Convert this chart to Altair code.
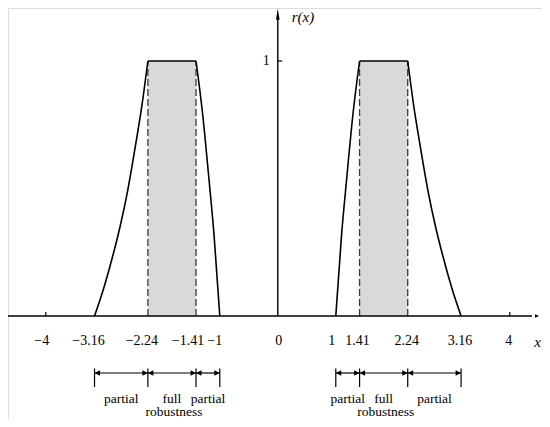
import altair as alt
import pandas as pd

# ---------------- data ----------------
tick_values = [-4, -3.16, -2.24, -1.41, -1, 0, 1, 1.41, 2.24, 3.16, 4]
tick_labels = ["−4", "−3.16", "−2.24", "−1.41", "−1", "0", "1", "1.41", "2.24", "3.16", "4"]

# curve pieces (x, r)
neg_rise_x = [-3.16, -3.0, -2.84, -2.72, -2.59, -2.46, -2.34, -2.24]
neg_rise_r = [0, 0.11, 0.24, 0.35, 0.49, 0.66, 0.83, 1]
neg_fall_x = [-1.41, -1.3, -1.18, -1.1, -1.0]
neg_fall_r = [1, 0.8, 0.52, 0.32, 0]
pos_rise_x = [1.0, 1.1, 1.18, 1.3, 1.41]
pos_rise_r = [0, 0.32, 0.52, 0.8, 1]
pos_fall_x = [2.24, 2.34, 2.46, 2.59, 2.72, 2.84, 3.0, 3.16]
pos_fall_r = [1, 0.83, 0.66, 0.49, 0.35, 0.24, 0.11, 0]

full_lo = [-2.24, 1.41]
full_hi = [-1.41, 2.24]

zone_start = [-3.16, -2.24, -1.41, 1, 1.41, 2.24]
zone_end = [-2.24, -1.41, -1, 1.41, 2.24, 3.16]
zone_label = ["partial", "full", "partial", "partial", "full", "partial"]

y_tick_value = 1
y_tick_label = "1"

# ---------------- geometry ----------------
W, H = 534, 411
PX, PY = 58.0, 255.0
XMIN = -(277.8 - 8) / PX
XMAX = XMIN + W / PX
YMAX = (316 - 8) / PY
YMIN = YMAX - H / PY


def rx(p):
    return XMIN + (p - 8) / PX


def ry(p):
    return YMAX - (p - 8) / PY


xs = alt.Scale(domain=[XMIN, XMAX], nice=False, zero=False)
ys = alt.Scale(domain=[YMIN, YMAX], nice=False, zero=False)
FONT = "Liberation Serif"


def X(f):
    return alt.X(f, type="quantitative", scale=xs, axis=None)


def Y(f):
    return alt.Y(f, type="quantitative", scale=ys, axis=None)


# shaded full-robustness bands
df_band = pd.DataFrame({"x": full_lo, "x2": full_hi, "y": 0.0, "y2": 1.0})
band = alt.Chart(df_band).mark_rect(color="#d9d9d9").encode(
    x=X("x"), x2="x2", y=Y("y"), y2="y2")

# dashed boundaries
df_dash = pd.DataFrame({"x": full_lo + full_hi, "y": 0.0, "y2": 1.0})
dash = alt.Chart(df_dash).mark_rule(color="#3a3a3a", strokeWidth=1.3,
                                    strokeDash=[7, 3]).encode(
    x=X("x"), y=Y("y"), y2="y2")

# curved pieces
pieces = [(neg_rise_x, neg_rise_r), (neg_fall_x, neg_fall_r),
          (pos_rise_x, pos_rise_r), (pos_fall_x, pos_fall_r)]
rows = []
for k, (px_, pr_) in enumerate(pieces):
    for i, (a, b) in enumerate(zip(px_, pr_)):
        rows.append({"x": a, "r": b, "seg": k, "i": i})
df_curve = pd.DataFrame(rows)
curve = alt.Chart(df_curve).mark_line(color="black", strokeWidth=1.6,
                                      interpolate="monotone").encode(
    x=X("x"), y=Y("r"), detail="seg:N", order="i:Q")

# flat tops
df_top = pd.DataFrame({"x": full_lo, "x2": full_hi, "y": 1.0})
top = alt.Chart(df_top).mark_rule(color="black", strokeWidth=1.6).encode(
    x=X("x"), x2="x2", y=Y("y"))

# axes lines
df_xaxis = pd.DataFrame({"x": [XMIN], "x2": [rx(532)], "y": [0.0]})
xaxis = alt.Chart(df_xaxis).mark_rule(color="black", strokeWidth=1.4).encode(
    x=X("x"), x2="x2", y=Y("y"))
df_yaxis = pd.DataFrame({"x": [0.0], "y": [0.0], "y2": [ry(19)]})
yaxis = alt.Chart(df_yaxis).mark_rule(color="black", strokeWidth=1.4).encode(
    x=X("x"), y=Y("y"), y2="y2")

df_xarrow = pd.DataFrame({"x": [rx(539)], "y": [0.0]})
xarrow = alt.Chart(df_xarrow).mark_point(
    shape="M0,0L-2,-0.9L-2,0.9Z", size=16, filled=True, opacity=1,
    color="black").encode(x=X("x"), y=Y("y"))
df_yarrow = pd.DataFrame({"x": [0.0], "y": [ry(8.5)]})
yarrow = alt.Chart(df_yarrow).mark_point(
    shape="M0,0L-0.9,5.6L0.9,5.6Z", size=16, filled=True, opacity=1,
    color="black").encode(x=X("x"), y=Y("y"))

# small ticks at +-4 and at r=1
df_xt = pd.DataFrame({"x": [tick_values[0], tick_values[-1]], "y": 0.0,
                      "y2": 4 / PY})
xticks = alt.Chart(df_xt).mark_rule(color="black", strokeWidth=1.2).encode(
    x=X("x"), y=Y("y"), y2="y2")
df_yt = pd.DataFrame({"x": [0.0], "x2": [4.5 / PX], "y": [y_tick_value]})
yticks = alt.Chart(df_yt).mark_rule(color="black", strokeWidth=1.2).encode(
    x=X("x"), x2="x2", y=Y("y"))

# tick labels
nudge = {"−4": -4, "−3.16": -6, "−2.24": -6, "−1.41": -8, "−1": -5,
         "0": 1, "1": -4, "1.41": -2, "2.24": -1, "3.16": -1, "4": -1}
df_tl = pd.DataFrame({"x": tick_values, "label": tick_labels,
                      "dx": [nudge[t] for t in tick_labels]})
df_tl["xp"] = df_tl["x"] + df_tl["dx"] / PX
df_tl["y"] = ry(341)
tlabels = alt.Chart(df_tl).mark_text(font=FONT, fontSize=14, color="black",
                                     baseline="middle", align="center").encode(
    x=X("xp"), y=Y("y"), text="label:N")

df_yl = pd.DataFrame({"x": [0.0], "y": [y_tick_value], "label": [y_tick_label]})
ylabel = alt.Chart(df_yl).mark_text(font=FONT, fontSize=14, color="black",
                                    baseline="middle", align="right",
                                    dx=-8).encode(
    x=X("x"), y=Y("y"), text="label:N")

df_xname = pd.DataFrame({"x": [rx(541)], "y": [ry(342)], "label": ["x"]})
xname = alt.Chart(df_xname).mark_text(font=FONT, fontSize=15, fontStyle="italic",
                                      color="black", baseline="middle",
                                      align="right").encode(
    x=X("x"), y=Y("y"), text="label:N")
df_yname = pd.DataFrame({"x": [rx(303)], "y": [ry(17)], "label": ["r(x)"]})
yname = alt.Chart(df_yname).mark_text(font=FONT, fontSize=15, fontStyle="italic",
                                      color="black", baseline="middle",
                                      align="center").encode(
    x=X("x"), y=Y("y"), text="label:N")

# brackets
df_z = pd.DataFrame({"x": zone_start, "x2": zone_end, "label": zone_label})
df_z["mid"] = (df_z["x"] + df_z["x2"]) / 2
df_z["yb"] = ry(373)
df_z["yt"] = ry(398.5)
bline = alt.Chart(df_z).mark_rule(color="black", strokeWidth=1.2).encode(
    x=X("x"), x2="x2", y=Y("yb"))
bounds = sorted(set(zone_start + zone_end))
df_bar = pd.DataFrame({"x": bounds, "y": ry(368.5), "y2": ry(387)})
bars = alt.Chart(df_bar).mark_rule(color="black", strokeWidth=1.2).encode(
    x=X("x"), y=Y("y"), y2="y2")
lhead = alt.Chart(df_z).mark_point(
    shape="M0,0L2,-1L2,1Z", size=30, filled=True, opacity=1,
    color="black").encode(x=X("x"), y=Y("yb"))
rhead = alt.Chart(df_z).mark_point(
    shape="M0,0L-2,-1L-2,1Z", size=30, filled=True, opacity=1,
    color="black").encode(x=X("x2"), y=Y("yb"))
ztext = alt.Chart(df_z).mark_text(font=FONT, fontSize=13.5, color="black",
                                  baseline="middle", align="center").encode(
    x=X("mid"), y=Y("yt"), text="label:N")
df_rob = pd.DataFrame({"x": [(a + b) / 2 + 2 / PX for a, b in zip(full_lo, full_hi)],
                       "y": ry(412), "label": "robustness"})
rob = alt.Chart(df_rob).mark_text(font=FONT, fontSize=13.5, color="black",
                                  baseline="middle", align="center").encode(
    x=X("x"), y=Y("y"), text="label:N")

chart = alt.layer(
    band, dash, curve, top, xaxis, yaxis, xarrow, yarrow, xticks, yticks,
    tlabels, ylabel, xname, yname, bline, bars, lhead, rhead, ztext, rob
).properties(
    width=W, height=H, padding=0, autosize=alt.AutoSizeParams(type="none")
).configure_view(strokeWidth=0).configure(background="white")

chart.save("out.html", embed_options={"renderer": "svg", "actions": False})
